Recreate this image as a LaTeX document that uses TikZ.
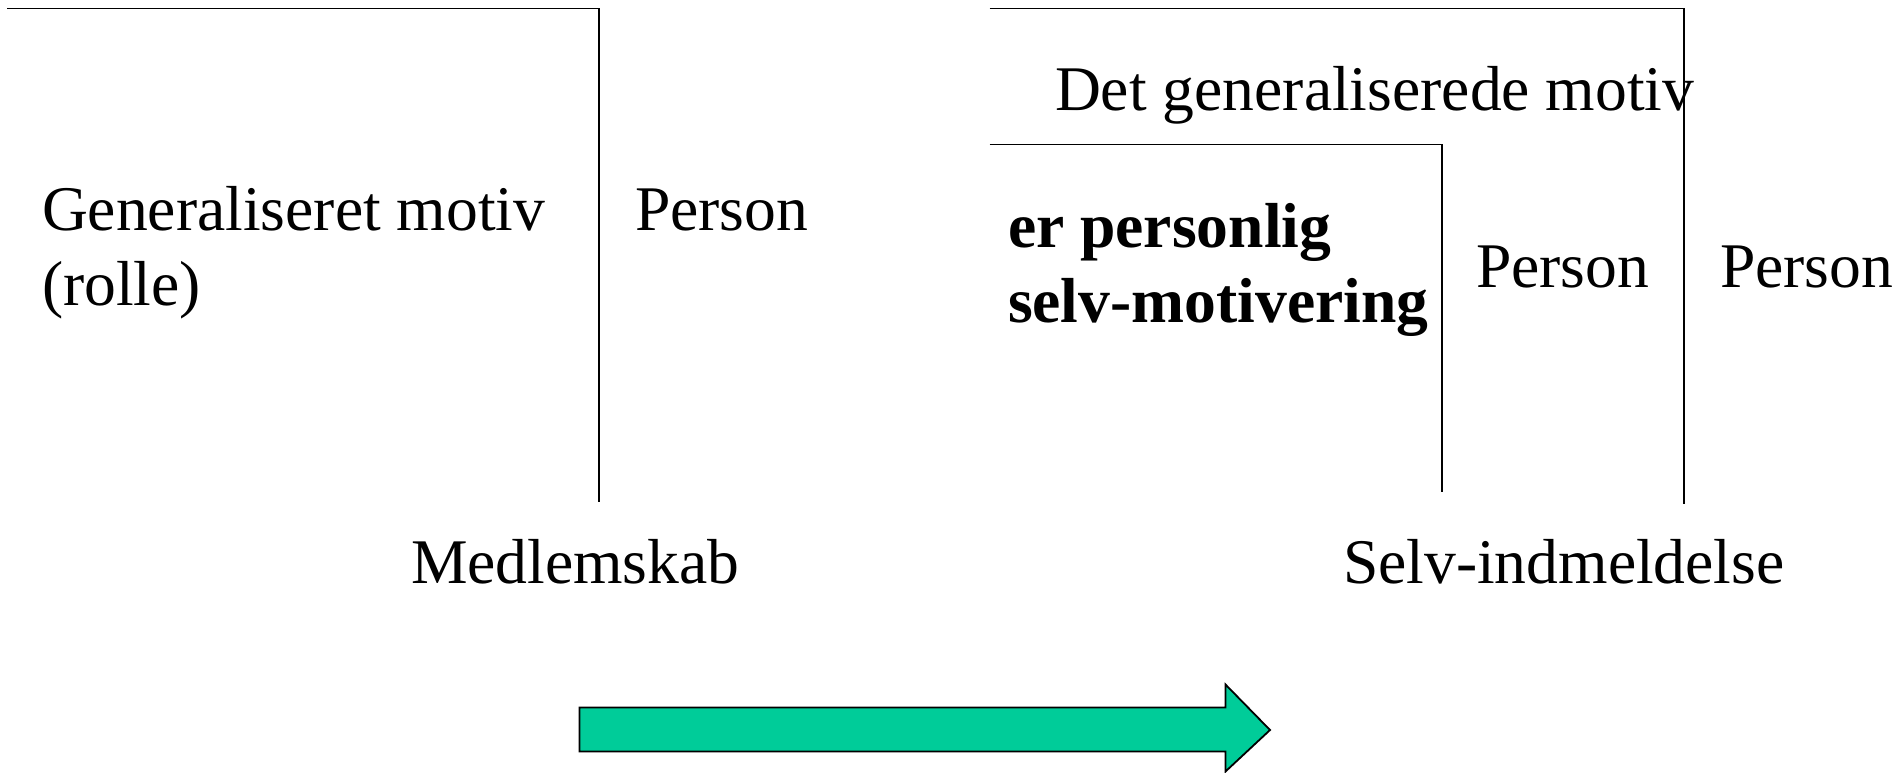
\documentclass[tikz,border=0pt]{standalone}
\usepackage{fontspec}
\setmainfont{Liberation Serif}
\definecolor{arrowgreen}{RGB}{0,204,153}
\begin{document}
\begin{tikzpicture}[x=1pt,y=-1pt,
  frame/.style={draw=black,line width=1.6pt,line cap=butt},
  lbl/.style={anchor=base west,inner sep=0pt,outer sep=0pt,
    font=\fontsize{63.6}{76}\selectfont},
  blbl/.style={lbl,font=\fontsize{63.6}{76}\selectfont\bfseries},
  bigarrow/.style={draw=black,line width=1.8pt,fill=arrowgreen,line join=miter}]
  \useasboundingbox (0,0) rectangle (1897,773);

  % left bracket: role membership
  \coordinate (lA) at (7,8.5);
  \coordinate (lB) at (599,8.5);
  \coordinate (lC) at (599,502);
  \draw[frame] (lA) -- (lB) -- (lC);

  \node[lbl] (gen1) at (42,230) {Generaliseret motiv};
  \node[lbl] (gen2) at (42,305) {(rolle)};
  \node[lbl] (pers1) at (635,230) {Person};
  \node[lbl] (medl) at (411,583) {Medlemskab};

  % right brackets: self-enrolment
  \coordinate (rA) at (989.6,8.5);
  \coordinate (rB) at (1684,8.5);
  \coordinate (rC) at (1684,504);
  \draw[frame] (rA) -- (rB) -- (rC);

  \coordinate (iA) at (989.6,144.5);
  \coordinate (iB) at (1442,144.5);
  \coordinate (iC) at (1442,492);
  \draw[frame] (iA) -- (iB) -- (iC);

  \node[lbl] (det) at (1055,111) {Det generaliserede motiv};
  \node[blbl] (bold1) at (1008,247) {er personlig};
  \node[blbl] (bold2) at (1008,322) {selv-motivering};
  \node[lbl] (pers2) at (1476,287) {Person};
  \node[lbl] (pers3) at (1720,287) {Person};
  \node[lbl] (selv) at (1343,583) {Selv-indmeldelse};

  % block arrow
  \draw[bigarrow] (579.5,707.5) -- (1225.5,707.5) -- (1225.5,684.5)
    -- (1270,730) -- (1225.5,771.5) -- (1225.5,751.5) -- (579.5,751.5) -- cycle;
\end{tikzpicture}
\end{document}
